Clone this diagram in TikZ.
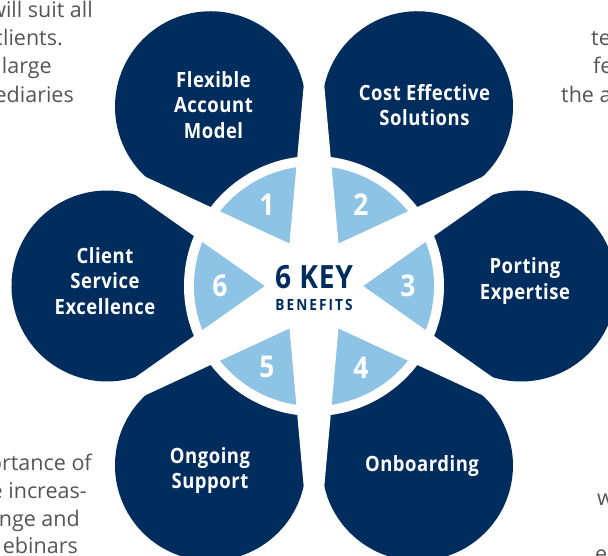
\documentclass[tikz,border=0pt]{standalone}
\usepackage{fontspec}
\setmainfont{Open Sans}
\newfontfamily\petalfont{Open Sans}[FakeStretch=0.88,LetterSpace=2.5]
\usetikzlibrary{calc}
\definecolor{navy}{HTML}{012D5E}
\definecolor{lightblue}{HTML}{8DC3E5}
\definecolor{textgray}{HTML}{555555}
\begin{document}
\begin{tikzpicture}[x=1pt,y=1pt,
  petaltext/.style={text=white,font=\petalfont\fontsize{21}{25.5}\selectfont\bfseries,align=center},
  numtext/.style={text=white,font=\petalfont\fontsize{30}{30}\selectfont\bfseries},
  sidetext/.style={text=textgray,font=\fontsize{21.5}{28}\selectfont,inner sep=0pt}]
\useasboundingbox (-314,-269) rectangle (294,286);
\coordinate (centre) at (0,0);
% petals
\foreach \a in {0,60,...,300}
  \fill[navy] (centre) -- ($(\a:207)+(\a-117.5:95.5)$)
    arc[start angle=\a-117.5,end angle=\a+117.5,radius=95.5] -- cycle;
\fill[white] (centre) circle[radius=130];
\fill[lightblue] (centre) circle[radius=120];
\fill[white] (0:49) \foreach \a in {0,60,...,300} {-- (\a+30:315) -- (\a+60:49)} -- cycle;
\foreach \n/\a in {1/120,2/60,3/0,4/-60,5/-120,6/180}
  \node[numtext] (num\n) at (\a:94) {\n};
\node[text=navy,font=\petalfont\fontsize{32}{32}\selectfont\bfseries] (keyA) at (0,9) {6 KEY};
\node[text=navy,font=\petalfont\fontsize{15.5}{15.5}\selectfont\bfseries\addfontfeatures{LetterSpace=13}] (keyB) at (0,-18.5) {BENEFITS};
\node[petaltext] (nodeFlex) at (-100.5,181) {Flexible\\Account\\Model};
\node[petaltext] (nodeCost) at (110.5,181) {Cost Effective\\Solutions};
\node[petaltext] (nodePort) at (211,5) {Porting\\Expertise};
\node[petaltext] (nodeOnb) at (108,-180) {Onboarding};
\node[petaltext] (nodeOng) at (-104,-184.5) {Ongoing\\Support};
\node[petaltext] (nodeClient) at (-209,5) {Client\\Service\\Excellence};
%page text around the diagram
\node[sidetext,anchor=base east] (sideA) at (-221,269) {will suit all};
\node[sidetext,anchor=base east] (sideB) at (-251,241) {clients.};
\node[sidetext,anchor=base east] (sideC) at (-262,213) {large};
\node[sidetext,anchor=base east] (sideD) at (-240,184) {ediaries};
\node[sidetext,anchor=base west] (sideE) at (277,241) {te};
\node[sidetext,anchor=base west] (sideF) at (279,213) {fe};
\node[sidetext,anchor=base west] (sideG) at (247,184) {the a};
\node[sidetext,anchor=base east] (sideH) at (-222,-184) {ortance of};
\node[sidetext,anchor=base east] (sideI) at (-227,-212) {e increas-};
\node[sidetext,anchor=base east] (sideJ) at (-234,-240) {nge and};
\node[sidetext,anchor=base east] (sideK) at (-236,-267) {ebinars};
\node[sidetext,anchor=base west] (sideL) at (283,-219) {w};
\node[sidetext,anchor=base west] (sideM) at (281,-275) {e};
\end{tikzpicture}
\end{document}
